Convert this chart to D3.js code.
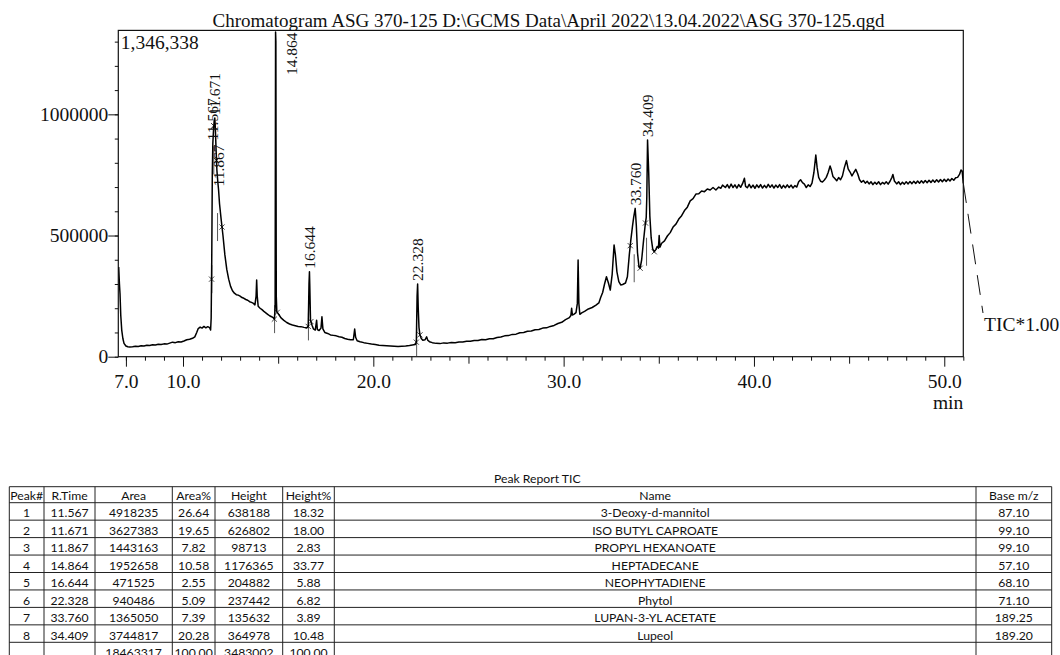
<!DOCTYPE html>
<html><head><meta charset="utf-8">
<script src="https://cdn.jsdelivr.net/npm/d3@7"></script>
<style>
body{margin:0;background:#fff}
svg{display:block}
.serif{font-family:"Liberation Serif","Times New Roman",serif}
.tbl{font-family:Lato,"Noto Sans",sans-serif}
</style></head><body>
<svg id="c" width="1060" height="655"></svg>
<script>
// ---------------- DATA ----------------
const chartTitle = "Chromatogram ASG 370-125 D:\\GCMS Data\\April 2022\\13.04.2022\\ASG 370-125.qgd";
const maxIntensityLabel = "1,346,338";
const yMax = 1346338;
const xDomain = [6.6, 51.0];
const xTickLabels = [7, 10, 20, 30, 40, 50];
const yTickLabels = [0, 500000, 1000000];
const traceLabel = "TIC*1.00";
const xUnit = "min";

// TIC trace: [retention time (min), intensity (x1000 counts)]
const ticTraceK = [
[6.62,370],[6.66,300],[6.69,260],[6.73,170],[6.78,110],[6.84,75],[6.90,55],[7.0,44],[7.1,41],[7.2,40],[7.35,41],
[7.5,43],[7.65,42],[7.8,45],[7.95,44],[8.1,47],[8.25,46],[8.4,49],[8.55,48],[8.7,51],[8.85,50],[9.0,53],
[9.15,52],[9.3,56],[9.45,60],[9.6,58],[9.75,62],[9.9,61],[10.05,65],[10.2,70],[10.35,72],[10.5,76],
[10.62,82],[10.72,100],[10.8,116],[10.9,122],[11.0,118],[11.1,125],[11.2,119],[11.3,124],[11.4,120],
[11.45,110],[11.48,160],[11.51,400],[11.54,760],[11.567,880],[11.60,930],[11.64,975],[11.671,985],
[11.70,940],[11.74,850],[11.78,770],[11.83,720],[11.867,690],[11.92,630],[12.0,570],[12.1,500],
[12.2,420],[12.3,360],[12.4,320],[12.5,290],[12.6,272],[12.7,262],[12.8,256],[12.9,254],[13.0,250],
[13.1,244],[13.2,241],[13.3,236],[13.4,233],[13.5,227],[13.6,224],[13.7,220],[13.78,214],[13.84,250],
[13.87,316],[13.9,250],[13.95,208],[14.05,200],[14.15,194],[14.25,187],[14.35,181],[14.45,175],
[14.55,169],[14.65,165],[14.75,160],[14.80,155],[14.84,200],[14.864,1340],[14.88,1300],[14.90,250],
[14.93,185],[14.98,180],[15.05,172],[15.15,160],[15.3,150],[15.45,141],[15.6,135],[15.75,131],
[15.9,128],[16.05,125],[16.2,124],[16.35,121],[16.5,119],[16.58,125],[16.62,300],[16.644,350],
[16.66,300],[16.70,150],[16.78,130],[16.85,115],[16.95,110],[17.02,150],[17.06,112],[17.15,108],
[17.25,118],[17.30,165],[17.35,115],[17.45,100],[17.6,96],[17.75,90],[17.9,88],[18.05,86],[18.2,82],
[18.35,80],[18.5,75],[18.65,72],[18.8,70],[18.95,70],[19.02,114],[19.07,80],[19.15,66],[19.3,62],
[19.5,58],[19.7,55],[19.9,52],[20.1,50],[20.3,47],[20.5,46],[20.7,45],[20.9,44],[21.1,43],[21.3,42],
[21.5,43],[21.7,44],[21.9,46],[22.05,48],[22.2,50],[22.26,60],[22.30,250],[22.328,300],[22.36,200],
[22.40,120],[22.45,90],[22.52,75],[22.6,68],[22.72,70],[22.80,82],[22.86,68],[22.95,62],[23.1,58],
[23.3,55],[23.5,54],[23.7,57],[23.9,56],[24.1,59],[24.3,58],[24.5,61],[24.7,61],[24.9,64],[25.1,64],
[25.3,67],[25.5,67],[25.7,71],[25.9,70],[26.1,74],[26.3,74],[26.5,79],[26.7,81],[26.9,86],[27.1,87],
[27.3,92],[27.5,93],[27.7,99],[27.9,100],[28.1,105],[28.3,106],[28.5,111],[28.7,112],[28.9,118],
[29.1,119],[29.3,125],[29.5,129],[29.7,137],[29.9,142],[30.1,153],[30.3,161],[30.38,170],[30.42,200],
[30.46,172],[30.55,176],[30.65,182],[30.72,220],[30.76,399],[30.80,220],[30.85,175],[30.95,181],
[31.1,187],[31.3,197],[31.5,203],[31.7,213],[31.85,222],[31.95,245],[32.05,265],[32.15,300],
[32.25,330],[32.35,305],[32.45,275],[32.55,340],[32.65,461],[32.72,420],[32.8,350],[32.9,310],
[33.0,296],[33.1,298],[33.25,304],[33.35,330],[33.45,420],[33.53,481],[33.62,540],[33.68,575],
[33.76,612],[33.82,540],[33.88,430],[33.96,370],[34.02,365],[34.1,400],[34.2,480],[34.28,540],
[34.34,575],[34.37,660],[34.409,894],[34.47,760],[34.53,580],[34.60,490],[34.68,445],[34.76,433],
[34.84,442],[34.92,455],[34.98,448],[35.02,500],[35.06,452],[35.15,468],[35.3,478],[35.45,498],
[35.6,512],[35.75,535],[35.9,547],[36.05,568],[36.2,582],[36.35,603],[36.5,617],[36.65,643],
[36.8,652],[36.95,671],[37.1,672],[37.25,684],[37.4,681],[37.55,692],[37.7,688],[37.85,698],
[38.0,688],[38.15,700],[38.26,695],[38.35,708],[38.5,698],[38.6,710],[38.7,696],[38.8,712],[38.9,698],
[39.0,709],[39.1,696],[39.2,710],[39.3,699],[39.4,714],[39.5,736],[39.56,703],[39.65,697],[39.75,711],
[39.85,697],[39.95,708],[40.05,695],[40.15,709],[40.25,698],[40.35,710],[40.45,696],[40.55,707],
[40.65,697],[40.75,711],[40.85,699],[40.95,709],[41.05,696],[41.15,708],[41.25,698],[41.35,710],
[41.45,695],[41.55,707],[41.65,697],[41.75,709],[41.85,698],[41.95,708],[42.05,696],[42.15,706],
[42.25,700],[42.35,722],[42.45,730],[42.55,718],[42.65,712],[42.75,698],[42.85,709],[42.95,702],
[43.05,716],[43.15,760],[43.25,832],[43.32,780],[43.40,740],[43.5,724],[43.6,721],[43.7,729],
[43.8,740],[43.9,760],[44.0,787],[44.07,770],[44.15,744],[44.25,735],[44.35,726],[44.45,739],
[44.55,730],[44.65,746],[44.75,780],[44.86,809],[44.95,775],[45.05,762],[45.15,746],[45.25,760],
[45.35,773],[45.45,755],[45.55,730],[45.65,720],[45.75,727],[45.85,716],[45.95,724],[46.05,713],
[46.15,722],[46.25,710],[46.35,720],[46.45,712],[46.55,722],[46.65,710],[46.75,719],[46.85,713],
[46.95,722],[47.05,712],[47.15,724],[47.25,740],[47.30,752],[47.38,725],[47.5,713],[47.6,722],
[47.7,710],[47.8,720],[47.9,712],[48.0,722],[48.1,713],[48.2,723],[48.3,714],[48.4,724],[48.5,715],
[48.6,725],[48.7,716],[48.8,726],[48.9,717],[49.0,727],[49.1,718],[49.2,728],[49.3,719],[49.4,729],
[49.5,720],[49.6,730],[49.7,721],[49.8,731],[49.9,722],[50.0,732],[50.1,723],[50.2,733],[50.3,725],
[50.4,735],[50.5,728],[50.6,738],[50.7,740],[50.8,752],[50.88,770],[50.94,766],[51.0,716]
];

// Peak table
const peakNo     = [1, 2, 3, 4, 5, 6, 7, 8];
const peakRT     = ["11.567","11.671","11.867","14.864","16.644","22.328","33.760","34.409"];
const peakStart  = [11.50, 11.62, 11.76, 14.80, 16.58, 22.26, 33.50, 34.30];
const peakEnd    = [11.62, 11.76, 12.05, 14.95, 16.72, 22.45, 34.02, 34.76];
const peakArea   = ["4918235","3627383","1443163","1952658","471525","940486","1365050","3744817"];
const peakAreaPct= ["26.64","19.65","7.82","10.58","2.55","5.09","7.39","20.28"];
const peakHeight = ["638188","626802","98713","1176365","204882","237442","135632","364978"];
const peakHeightPct = ["18.32","18.00","2.83","33.77","5.88","6.82","3.89","10.48"];
const peakName   = ["3-Deoxy-d-mannitol","ISO BUTYL CAPROATE","PROPYL HEXANOATE","HEPTADECANE","NEOPHYTADIENE","Phytol","LUPAN-3-YL ACETATE","Lupeol"];
const peakBaseMz = ["87.10","99.10","99.10","57.10","68.10","71.10","189.25","189.20"];
const totalRow   = ["", "", "18463317", "100.00", "3483002", "100.00", "", ""];
const tableHeader= ["Peak#","R.Time","Area","Area%","Height","Height%","Name","Base m/z"];
const tableTitle = "Peak Report TIC";

// ---------------- DRAW ----------------
const svg = d3.select("#c");
svg.append("rect").attr("width",1060).attr("height",655).attr("fill","#fff");

const L = 118.3, R = 963.3, T = 30.4, B = 356.7;
const x = d3.scaleLinear().domain(xDomain).range([L, R]);
const y = d3.scaleLinear().domain([0, yMax]).range([B, T]);
const trace = ticTraceK.map(d => [d[0], d[1]*1000]);
const interp = t => {
  const i = d3.bisector(d => d[0]).left(trace, t);
  if (i <= 0) return trace[0][1];
  if (i >= trace.length) return trace[trace.length-1][1];
  const a = trace[i-1], b = trace[i];
  return a[1] + (b[1]-a[1])*(t-a[0])/(b[0]-a[0]);
};

const serif = "Liberation Serif, Times New Roman, serif";

// title
svg.append("text").attr("class","serif").attr("x",548.5).attr("y",26.5)
  .attr("text-anchor","middle").attr("font-size",19).attr("fill","#111").text(chartTitle);

// clip
svg.append("clipPath").attr("id","plotclip").append("rect")
  .attr("x",L).attr("y",T).attr("width",R-L).attr("height",B-T);

// axes
const fmt = d3.format(".1f");
const xMinor = d3.range(7, 52, 1).filter(v => v % 5 !== 0);
const xMid = d3.range(15, 52, 10);
const gx = svg.append("g").attr("transform",`translate(0,${B})`);
gx.append("g").call(d3.axisBottom(x).tickValues(xMinor).tickSize(4).tickFormat("")).call(g=>g.select(".domain").remove());
gx.append("g").call(d3.axisBottom(x).tickValues(xMid).tickSize(7).tickFormat("")).call(g=>g.select(".domain").remove());
gx.append("g").call(d3.axisBottom(x).tickValues(xTickLabels).tickSize(10).tickPadding(7.5).tickFormat(fmt))
  .call(g=>g.select(".domain").remove())
  .call(g=>g.selectAll("text").attr("font-family",serif).attr("font-size",19.5).attr("fill","#111"));
gx.selectAll("line").attr("stroke","#111");

const gy = svg.append("g").attr("transform",`translate(${L},0)`);
gy.append("g").call(d3.axisLeft(y).tickValues(d3.range(0, yMax, 100000)).tickSize(3.5).tickFormat("")).call(g=>g.select(".domain").remove());
gy.append("g").call(d3.axisLeft(y).tickValues(yTickLabels).tickSize(10).tickPadding(0).tickFormat(d3.format("d")))
  .call(g=>g.select(".domain").remove())
  .call(g=>g.selectAll("text").attr("font-family",serif).attr("font-size",19.5).attr("fill","#111"));
gy.selectAll("line").attr("stroke","#111");

// frame
svg.append("rect").attr("x",L).attr("y",T).attr("width",R-L).attr("height",B-T)
  .attr("fill","none").attr("stroke","#111").attr("stroke-width",1.2);

// max label
svg.append("text").attr("x",L+2.5).attr("y",49).attr("font-family",serif).attr("font-size",19.5)
  .attr("fill","#111").text(maxIntensityLabel);

// x unit
svg.append("text").attr("x",R).attr("y",408.5).attr("text-anchor","end").attr("font-family",serif)
  .attr("font-size",19.5).attr("fill","#111").text(xUnit);

// peak marks
const plot = svg.append("g").attr("clip-path","url(#plotclip)");
peakRT.forEach((rt, i) => {
  const base = Math.min(interp(peakStart[i]), interp(peakEnd[i]));
  const xv = x(+rt) - 1;
  plot.append("line").attr("x1",xv).attr("x2",xv).attr("y1",y(base)-14).attr("y2",Math.min(B, y(base)+14))
    .attr("stroke","#444").attr("stroke-width",0.9);
  [peakStart[i], peakEnd[i]].forEach(t => {
    const cx = x(t), cy = y(interp(t)), s = 2.6;
    plot.append("path").attr("d",`M${cx-s},${cy-s}L${cx+s},${cy+s}M${cx-s},${cy+s}L${cx+s},${cy-s}`)
      .attr("stroke","#333").attr("stroke-width",0.9).attr("fill","none");
  });
});

// trace
plot.append("path").datum(trace)
  .attr("d", d3.line().x(d => x(d[0])).y(d => y(d[1])))
  .attr("fill","none").attr("stroke","#000").attr("stroke-width",1.5).attr("stroke-linejoin","round");

// peak labels
peakRT.forEach((rt, i) => {
  const t = +rt;
  let xx = x(t), yb = y(interp(t)) - 3;
  const tl = svg.append("text").attr("font-family",serif).attr("font-size",15.5).attr("fill","#111")
    .attr("dy","0.35em").text(rt);
  const len = tl.node().getComputedTextLength();
  if (yb - len < T + 1) { xx += 15.5; yb = T + 2 + len; }
  tl.attr("transform",`translate(${xx},${yb}) rotate(-90)`);
});

// trace label with dashed leader
const lastPt = trace[trace.length-1];
svg.append("line").attr("x1",x(lastPt[0])).attr("y1",y(lastPt[1])).attr("x2",983).attr("y2",313)
  .attr("stroke","#111").attr("stroke-width",1).attr("stroke-dasharray","20 11");
svg.append("text").attr("x",984).attr("y",331).attr("font-family",serif).attr("font-size",19.5)
  .attr("fill","#111").text(traceLabel);

// ---------------- TABLE ----------------
const colEdges = [9.3, 44, 95, 172.3, 215, 282.7, 334.3, 976, 1051.7];
const tTop = 486.7, headH = 16, rowH = 17.45;
const rows = peakNo.map((n, i) => [String(n), peakRT[i], peakArea[i], peakAreaPct[i], peakHeight[i], peakHeightPct[i], peakName[i], peakBaseMz[i]]);
rows.push(totalRow);
const tg = svg.append("g").attr("class","tbl");
tg.append("text").attr("x",537.3).attr("y",482.7).attr("text-anchor","middle").attr("font-size",12.2)
  .attr("fill","#111").text(tableTitle);
const rowTops = [tTop, tTop+headH].concat(rows.map((r,i)=>tTop+headH+(i+1)*rowH));
rowTops.forEach(yy => tg.append("line").attr("x1",colEdges[0]).attr("x2",colEdges[colEdges.length-1])
  .attr("y1",yy).attr("y2",yy).attr("stroke","#222").attr("stroke-width",1));
colEdges.forEach(xx => tg.append("line").attr("x1",xx).attr("x2",xx).attr("y1",tTop).attr("y2",660)
  .attr("stroke","#222").attr("stroke-width",1));
const cellText = (vals, bottom) => vals.forEach((v, j) => {
  tg.append("text").attr("x",(colEdges[j]+colEdges[j+1])/2).attr("y",bottom-2.8)
    .attr("text-anchor","middle").attr("font-size",12.2).attr("fill","#111").text(v);
});
cellText(tableHeader, tTop+headH);
rows.forEach((r, i) => cellText(r, tTop+headH+(i+1)*rowH));
</script>
</body></html>
